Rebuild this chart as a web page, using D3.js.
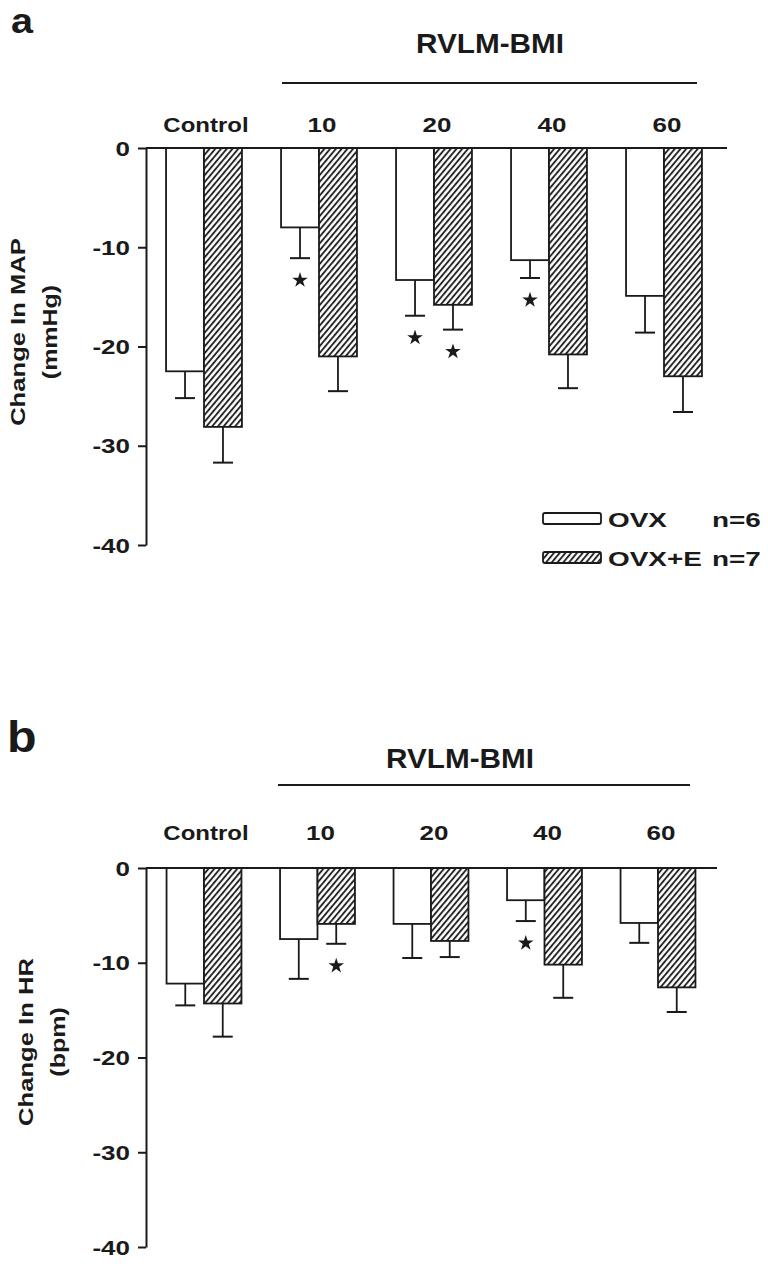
<!DOCTYPE html>
<html>
<head>
<meta charset="utf-8">
<script src="https://cdn.jsdelivr.net/npm/d3@7"></script>
<style>
  html, body { margin: 0; padding: 0; background: #fff; }
  svg { display: block; }
  text { font-family: "Liberation Sans", Arial, Helvetica, sans-serif; font-weight: bold; fill: #1a1a1a; }
</style>
</head>
<body>
<svg id="chart" width="768" height="1266"></svg>
<script>
// ---------------- DATA ----------------
const categories = ["Control", "10", "20", "40", "60"];
const seriesNames = ["OVX", "OVX+E"];
const seriesN = ["n=6", "n=7"];
const groupTitle = "RVLM-BMI";
const yTicks = [0, -10, -20, -30, -40];

// Panel a: Change in MAP (mmHg)
const mapOVX      = [-22.5, -8.0, -13.3, -11.3, -14.9];
const mapOVXErr   = [2.7, 3.1, 3.6, 1.8, 3.7];
const mapOVXE     = [-28.1, -21.0, -15.8, -20.8, -23.0];
const mapOVXEErr  = [3.6, 3.5, 2.5, 3.4, 3.6];
const mapOVXStar  = [false, true, true, true, false];
const mapOVXEStar = [false, false, true, false, false];

// Panel b: Change in HR (bpm)
const hrOVX       = [-12.2, -7.5, -5.9, -3.4, -5.8];
const hrOVXErr    = [2.3, 4.2, 3.6, 2.2, 2.1];
const hrOVXE      = [-14.3, -5.9, -7.7, -10.2, -12.6];
const hrOVXEErr   = [3.5, 2.1, 1.7, 3.5, 2.6];
const hrOVXStar   = [false, false, false, true, false];
const hrOVXEStar  = [false, true, false, false, false];

// ---------------- LAYOUT ----------------
const INK = "#1a1a1a";
const svg = d3.select("#chart");

const defs = svg.append("defs");
defs.append("pattern")
  .attr("id", "hatch")
  .attr("patternUnits", "userSpaceOnUse")
  .attr("width", 4.4).attr("height", 4.4)
  .attr("patternTransform", "rotate(40)")
  .call(p => {
    p.append("rect").attr("width", 4.4).attr("height", 4.4).attr("fill", "#fff");
    p.append("line").attr("x1", 1).attr("y1", -1).attr("x2", 1).attr("y2", 6)
      .attr("stroke", INK).attr("stroke-width", 1.8);
  });

function label(g, txt, x, y, opts = {}) {
  const size = opts.size || 20, sx = opts.sx || 1.28, rot = opts.rotate || 0;
  let tf = `translate(${x},${y})`;
  if (rot) tf += ` rotate(${rot})`;
  tf += ` scale(${sx},1)`;
  return g.append("text")
    .attr("transform", tf)
    .attr("text-anchor", opts.anchor || "middle")
    .style("font-size", size + "px")
    .text(txt);
}

function panel(cfg) {
  const g = svg.append("g");
  const series = [
    { vals: cfg.ovx, errs: cfg.ovxErr, stars: cfg.ovxStar, fill: "#fff" },
    { vals: cfg.ovxe, errs: cfg.ovxeErr, stars: cfg.ovxeStar, fill: "url(#hatch)" }
  ];

  const y = d3.scaleLinear().domain([0, -40]).range([cfg.yZero, cfg.yMin]);
  const x = d3.scaleBand().domain(categories).range(cfg.xRange)
    .paddingInner(0.34).paddingOuter(0.17);
  const sub = d3.scaleBand().domain([0, 1]).range([0, x.bandwidth()]);

  // panel letter
  label(g, cfg.letter, cfg.letterPos[0], cfg.letterPos[1], { size: cfg.letterSize, sx: 1.1, anchor: "start" });

  // group title and bracket line
  label(g, groupTitle, cfg.titlePos[0], cfg.titlePos[1], { size: 27, sx: 1.1 });
  g.append("line")
    .attr("x1", cfg.bracket[0]).attr("x2", cfg.bracket[1])
    .attr("y1", cfg.bracket[2]).attr("y2", cfg.bracket[2])
    .attr("stroke", INK).attr("stroke-width", 1.8);

  // category labels
  categories.forEach(c => {
    label(g, c, x(c) + x.bandwidth() / 2 + (c === "Control" ? 2 : 3), cfg.catY, { size: 20, sx: c === "Control" ? 1.2 : 1.3 });
  });

  // bars
  series.forEach((s, si) => {
    g.append("g").selectAll("rect")
      .data(categories)
      .join("rect")
      .attr("x", c => x(c) + sub(si))
      .attr("y", y(0))
      .attr("width", sub.bandwidth())
      .attr("height", (c, i) => y(s.vals[i]) - y(0))
      .attr("fill", s.fill)
      .attr("stroke", INK)
      .attr("stroke-width", 1.8);
  });

  // error bars & stars
  series.forEach((s, si) => {
    categories.forEach((c, i) => {
      const cx = x(c) + sub(si) + sub.bandwidth() / 2;
      const y1 = y(s.vals[i]), y2 = y(s.vals[i] - s.errs[i]);
      g.append("line").attr("x1", cx).attr("x2", cx).attr("y1", y1).attr("y2", y2)
        .attr("stroke", INK).attr("stroke-width", 1.8);
      g.append("line").attr("x1", cx - 10).attr("x2", cx + 10).attr("y1", y2).attr("y2", y2)
        .attr("stroke", INK).attr("stroke-width", 2);
      if (s.stars[i]) {
        g.append("path")
          .attr("d", d3.symbol().type(d3.symbolStar).size(75)())
          .attr("transform", `translate(${cx},${y2 + 22})`)
          .attr("fill", INK);
      }
    });
  });

  // zero line
  g.append("line")
    .attr("x1", cfg.axisX).attr("x2", cfg.zeroEnd)
    .attr("y1", y(0)).attr("y2", y(0))
    .attr("stroke", INK).attr("stroke-width", 2);

  // y axis
  const axis = d3.axisLeft(y).tickValues(yTicks).tickSize(8).tickSizeOuter(0)
    .tickFormat(d => String(d));
  const ax = g.append("g").attr("transform", `translate(${cfg.axisX},0)`).call(axis);
  ax.select(".domain").attr("stroke", INK).attr("stroke-width", 2);
  ax.selectAll(".tick line").attr("stroke", INK).attr("stroke-width", 2);
  ax.selectAll(".tick text")
    .attr("x", null).attr("dy", null)
    .attr("fill", INK)
    .attr("text-anchor", "end")
    .attr("font-family", null).attr("font-size", null)
    .style("font-size", "20px")
    .attr("transform", "translate(-16,7) scale(1.3,1)");

  // y title (two lines, rotated)
  label(g, cfg.yTitle[0], cfg.yTitleX[0], cfg.yTitleY, { size: 21, sx: 1.22, rotate: -90 });
  label(g, cfg.yTitle[1], cfg.yTitleX[1], cfg.yTitleY, { size: 20, sx: 1.25, rotate: -90 });

  // legend
  if (cfg.legend) {
    const L = cfg.legend;
    series.forEach((s, si) => {
      const yy = L.y[si];
      g.append("rect").attr("x", L.x).attr("y", yy - 14).attr("width", 58).attr("height", 11)
        .attr("rx", 2)
        .attr("fill", s.fill).attr("stroke", INK).attr("stroke-width", 1.8);
      label(g, seriesNames[si], L.x + 65, yy, { size: 21, sx: 1.33, anchor: "start" });
      label(g, seriesN[si], L.nx, yy, { size: 21, sx: 1.33, anchor: "start" });
    });
  }
}

panel({
  letter: "a", letterPos: [11, 33], letterSize: 36,
  titlePos: [490, 53], bracket: [282, 697, 83],
  catY: 132,
  yZero: 148, yMin: 545, axisX: 146, xRange: [146.5, 721.5], zeroEnd: 727,
  ovx: mapOVX, ovxErr: mapOVXErr, ovxStar: mapOVXStar,
  ovxe: mapOVXE, ovxeErr: mapOVXEErr, ovxeStar: mapOVXEStar,
  yTitle: ["Change In MAP", "(mmHg)"], yTitleX: [25, 57], yTitleY: 332,
  legend: { x: 543, y: [527, 566], nx: 712 }
});

panel({
  letter: "b", letterPos: [7, 752], letterSize: 44,
  titlePos: [460, 768], bracket: [278, 690, 785],
  catY: 840,
  yZero: 868, yMin: 1247, axisX: 146, xRange: [147.25, 714.75], zeroEnd: 717,
  ovx: hrOVX, ovxErr: hrOVXErr, ovxStar: hrOVXStar,
  ovxe: hrOVXE, ovxeErr: hrOVXEErr, ovxeStar: hrOVXEStar,
  yTitle: ["Change In HR", "(bpm)"], yTitleX: [33, 65], yTitleY: 1042,
  legend: null
});
</script>
</body>
</html>
